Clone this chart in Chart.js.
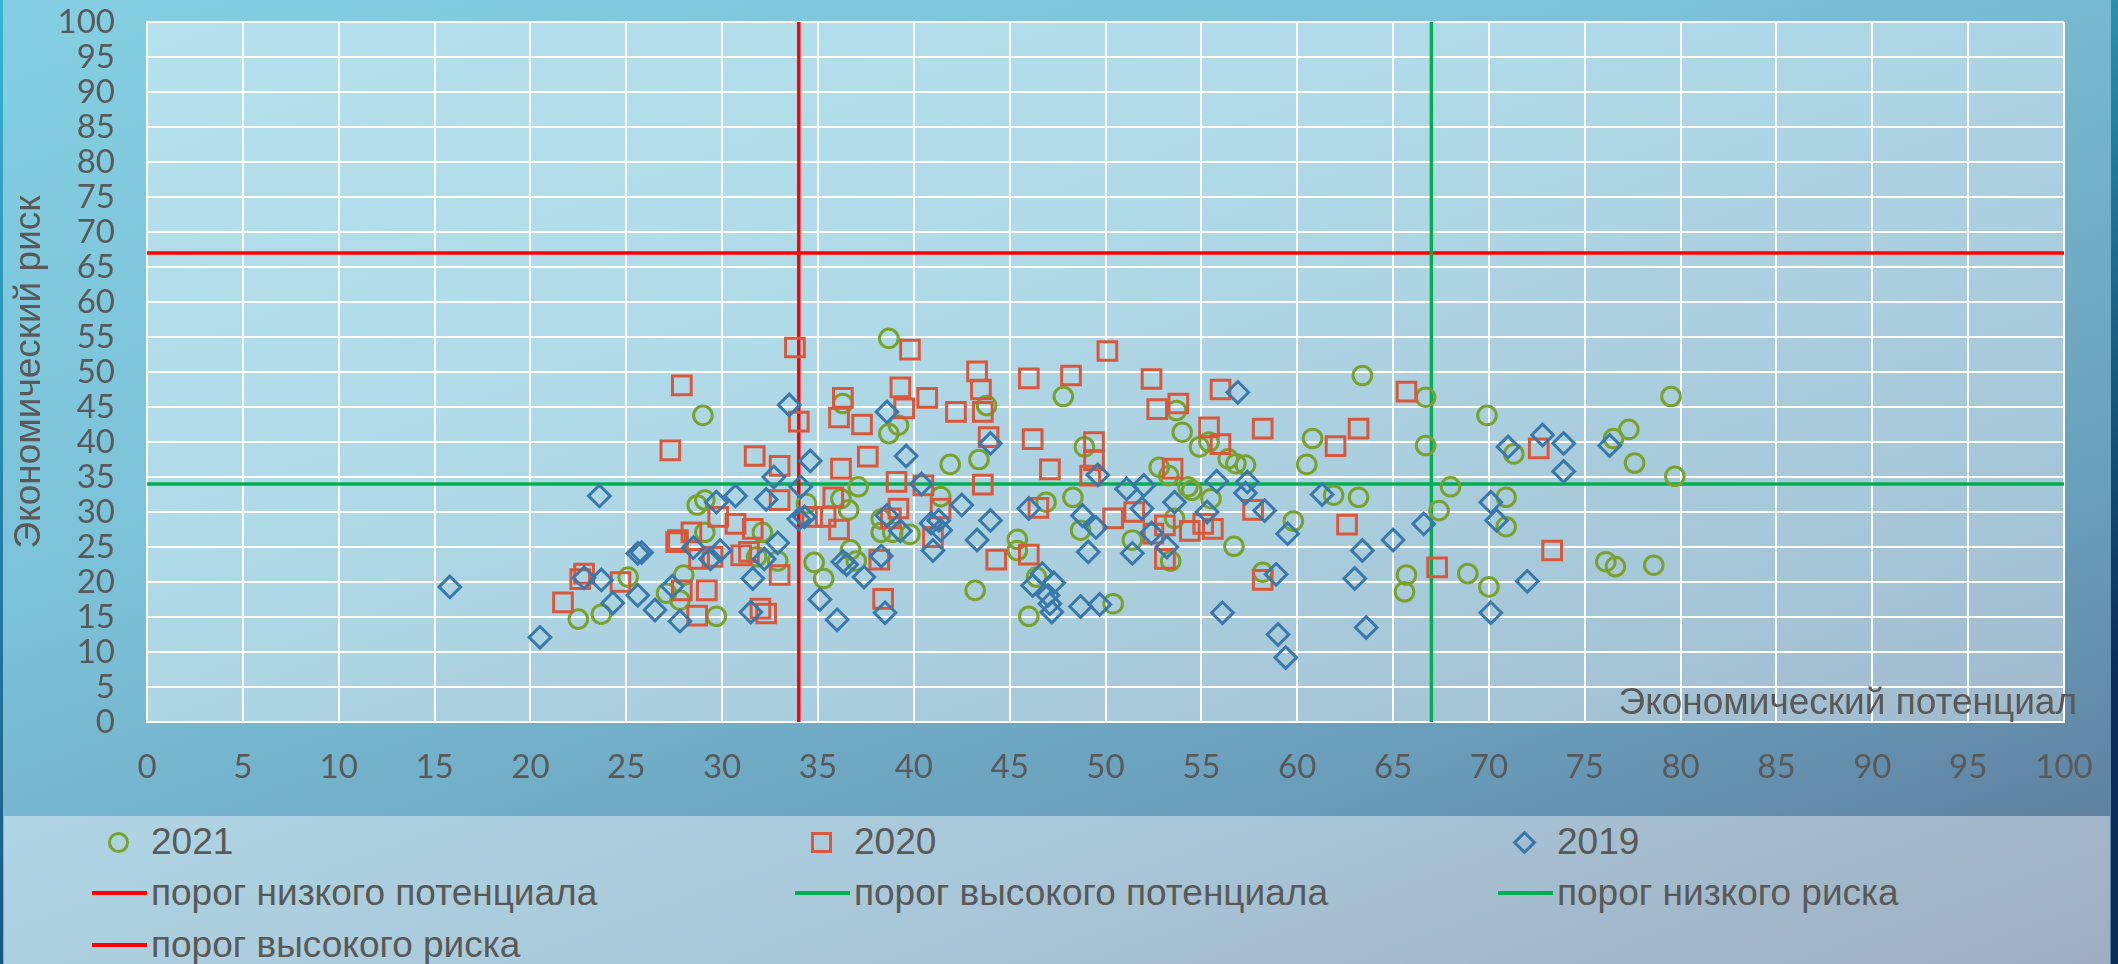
<!DOCTYPE html>
<html>
<head>
<meta charset="utf-8">
<script src="https://cdn.jsdelivr.net/npm/chart.js@4.4.1/dist/chart.umd.min.js"></script>
<style>
  html, body { margin: 0; padding: 0; }
  body {
    width: 2118px; height: 964px; overflow: hidden; position: relative;
    background: linear-gradient(160deg, #84cfe2 0%, #7cc2d8 35%, #6a9fbc 72%, #5a7594 100%);
    font-family: "Liberation Sans", Arial, sans-serif;
  }
  #edgeL { position: absolute; left: 0; top: 0; width: 3px; height: 964px; background: linear-gradient(180deg, #35b5d0, #1a5583); }
  #edgeR { position: absolute; right: 0; top: 0; width: 7px; height: 964px; background: linear-gradient(180deg, #2a90ad, #0b2d58 70%); }
  #wrap { position: absolute; left: 0; top: 0; width: 2118px; height: 815px; }
  #legendPanel { position: absolute; left: 4px; top: 816px; width: 2106px; height: 148px; background: rgba(255,255,255,0.42); }
  .lgText { position: absolute; height: 44px; line-height: 44px; font-size: 37px; color: #595959; white-space: nowrap; }
  .lgMark { position: absolute; box-sizing: border-box; }
</style>
</head>
<body>
<div id="edgeL"></div>
<div id="edgeR"></div>
<div id="wrap"><canvas id="risk"></canvas></div>
<div id="legendPanel"></div>
<div id="legend"></div>
<script>
const axisMin = 0;
const axisMax = 100;
const axisStep = 5;

// пороги
const lowPotential = 34;
const highPotential = 67;
const lowRisk = 34;
const highRisk = 67;

const xTitle = 'Экономический потенциал';
const yTitle = 'Экономический риск';

// [потенциал, риск]
const points2021 = [
  [22.5,14.7],[23.7,15.4],[25.1,20.7],[27.1,18.4],[27.8,17.4],[28.0,21.0],[29.7,15.1],[28.7,31.0],[29.1,31.7],[29.0,43.8],
  [29.1,27.1],[32.1,27.1],[31.8,23.6],[32.9,23.0],[34.4,31.2],[34.8,22.8],[35.3,20.5],[36.3,45.5],[36.2,31.9],[36.6,30.3],
  [36.7,24.6],[37.0,23.0],[37.1,33.6],[38.7,54.8],[38.7,41.2],[39.2,42.4],[38.3,29.0],[38.3,27.1],[38.9,27.1],[39.8,26.8],
  [41.4,32.2],[41.9,36.8],[43.4,37.5],[43.8,45.2],[43.2,18.8],[45.4,26.1],[45.4,24.5],[46.4,20.7],[46.0,15.1],[46.9,31.4],
  [47.8,46.5],[48.3,32.1],[48.9,39.3],[48.7,27.4],[50.4,16.9],[51.4,26.0],[52.8,36.4],[53.3,35.2],[53.7,44.5],[54.0,41.4],
  [54.9,39.3],[55.4,40.0],[54.3,33.6],[54.5,33.1],[55.5,31.9],[53.6,29.1],[53.4,23.0],[56.4,37.6],[56.8,36.9],[57.3,36.7],
  [56.7,25.1],[58.2,21.4],[59.8,28.7],[60.5,36.8],[60.8,40.5],[61.9,32.4],[63.2,32.1],[63.4,49.5],[65.7,21.0],[65.6,18.6],
  [66.7,46.4],[66.7,39.5],[67.4,30.2],[68.0,33.6],[68.9,21.2],[69.9,43.8],[70.0,19.3],[70.9,32.1],[70.9,27.9],[71.3,38.3],
  [76.1,22.9],[76.6,22.2],[76.5,40.5],[77.3,41.8],[77.6,37.0],[78.6,22.4],[79.5,46.5],[79.7,35.1]
];
const points2020 = [
  [21.7,17.1],[22.8,21.2],[22.6,20.4],[24.7,20.0],[27.3,38.8],[27.9,48.1],[27.7,26.0],[27.6,25.7],[28.4,27.1],[28.8,23.3],
  [29.5,23.6],[27.9,18.8],[29.2,18.8],[28.7,15.2],[29.8,29.3],[30.7,28.3],[31.6,27.6],[31.0,23.8],[31.4,24.3],[31.7,38.0],
  [33.0,36.6],[33.0,31.7],[33.0,21.0],[32.0,16.2],[32.3,15.5],[33.8,53.5],[34.0,42.9],[34.7,29.3],[35.4,29.3],[35.8,32.1],
  [36.1,27.5],[36.2,36.2],[36.3,46.3],[36.1,43.5],[37.3,42.5],[37.6,37.9],[38.2,23.2],[38.4,17.6],[38.8,29.1],[39.2,30.5],
  [39.1,34.3],[39.3,47.8],[39.5,44.8],[39.8,53.2],[40.5,33.8],[40.7,46.3],[41.4,30.5],[41.0,26.4],[42.2,44.3],[43.3,50.1],
  [43.5,47.5],[43.6,44.3],[43.9,40.7],[43.6,33.9],[44.3,23.2],[46.0,49.1],[46.2,40.4],[46.5,30.6],[46.0,23.9],[47.1,36.1],
  [48.2,49.5],[49.4,40.0],[49.4,37.4],[49.2,35.2],[50.1,53.0],[50.4,29.1],[51.5,30.0],[52.4,49.0],[52.7,44.7],[53.8,45.5],
  [53.5,36.2],[53.1,28.1],[52.5,26.9],[54.4,27.3],[55.1,28.3],[55.6,27.6],[53.1,23.3],[55.4,42.1],[56.0,47.5],[56.0,39.7],
  [57.7,30.3],[58.2,41.9],[58.2,20.3],[62.0,39.4],[62.6,28.2],[63.2,41.9],[65.7,47.2],[67.3,22.1],[72.6,39.1],[73.3,24.5]
];
const points2019 = [
  [15.8,19.3],[20.5,12.1],[23.6,32.3],[22.8,20.6],[23.7,20.3],[24.3,17.0],[25.6,24.1],[25.8,24.2],[25.6,18.1],[26.5,16.0],
  [27.4,19.4],[27.8,14.4],[28.5,24.9],[29.4,23.3],[29.9,24.5],[29.7,31.4],[30.7,32.3],[31.5,15.7],[31.6,20.5],[32.2,23.3],
  [32.3,31.8],[32.7,35.0],[32.9,25.6],[33.5,45.3],[34.0,29.0],[34.3,29.3],[34.1,33.6],[34.6,37.3],[35.1,17.5],[36.0,14.6],
  [36.3,22.9],[36.5,22.5],[37.4,20.7],[38.3,23.7],[38.5,15.6],[38.6,29.5],[38.6,44.3],[39.3,27.3],[39.6,38.0],[40.4,34.0],
  [40.9,28.4],[41.3,28.8],[41.4,27.4],[41.0,24.5],[42.5,31.0],[43.3,26.0],[44.0,28.8],[44.0,39.8],[46.0,30.5],[46.2,19.5],
  [46.7,21.2],[47.3,19.9],[47.0,18.1],[47.1,16.9],[47.2,15.7],[48.7,16.5],[48.8,29.5],[49.1,24.3],[49.5,27.8],[49.6,35.3],
  [49.7,16.8],[51.1,33.3],[51.4,24.1],[51.9,30.5],[52.0,33.8],[52.4,27.0],[53.2,25.0],[53.6,31.4],[55.3,30.0],[55.8,34.4],
  [56.1,15.6],[56.9,47.1],[57.4,34.3],[57.3,32.7],[58.3,30.2],[58.9,21.1],[59.0,12.5],[59.4,9.2],[59.5,26.9],[61.3,32.5],
  [63.0,20.5],[63.4,24.5],[63.6,13.5],[65.0,26.0],[66.6,28.3],[70.1,31.4],[70.4,28.8],[70.1,15.6],[71.0,39.3],[72.0,20.1],
  [72.8,41.0],[73.9,39.8],[73.9,35.8],[76.3,39.5]
];

const GREEN = '#78a22e';
const ORANGE = '#d9573b';
const BLUE = '#3a78aa';
const RED = '#ff0000';
const LINE_GREEN = '#00b050';
const TEXT = '#595959';

const toXY = pts => pts.map(p => ({ x: p[0], y: p[1] }));

function markerSet(label, pts, color, style, radius, order) {
  return {
    label: label,
    data: toXY(pts),
    pointStyle: style,
    pointRadius: radius,
    pointHoverRadius: radius,
    pointBorderWidth: 3,
    pointBorderColor: color,
    pointBackgroundColor: 'rgba(0,0,0,0)',
    borderColor: color,
    order: order
  };
}

function thresholdSet(label, a, b, color) {
  return {
    label: label,
    data: [a, b],
    showLine: true,
    borderColor: color,
    borderWidth: 3.5,
    pointRadius: 0,
    pointHoverRadius: 0,
    order: 5
  };
}

const datasets = [
  markerSet('2021', points2021, GREEN, 'circle', 9.3, 3),
  markerSet('2020', points2020, ORANGE, 'rect', 13.2, 2),
  markerSet('2019', points2019, BLUE, 'rectRot', 10.8, 1),
  thresholdSet('порог низкого потенциала', {x: lowPotential, y: axisMin}, {x: lowPotential, y: axisMax}, RED),
  thresholdSet('порог высокого потенциала', {x: highPotential, y: axisMin}, {x: highPotential, y: axisMax}, LINE_GREEN),
  thresholdSet('порог низкого риска', {x: axisMin, y: lowRisk}, {x: axisMax, y: lowRisk}, LINE_GREEN),
  thresholdSet('порог высокого риска', {x: axisMin, y: highRisk}, {x: axisMax, y: highRisk}, RED)
];

const plotBackground = {
  id: 'plotBackground',
  beforeDraw(chart) {
    const { ctx, chartArea: a } = chart;
    ctx.save();
    ctx.fillStyle = 'rgba(255,255,255,0.4)';
    ctx.fillRect(a.left, a.top, a.right - a.left, a.bottom - a.top);
    ctx.restore();
  }
};

// подпись оси X стоит внутри области построения, справа внизу
const cornerTitle = {
  id: 'cornerTitle',
  afterDraw(chart) {
    const { ctx, chartArea: a } = chart;
    ctx.save();
    ctx.font = '37px "Liberation Sans", Arial, sans-serif';
    ctx.fillStyle = TEXT;
    ctx.textAlign = 'right';
    ctx.textBaseline = 'alphabetic';
    ctx.fillText(xTitle, a.right + 13, a.bottom - 8);
    ctx.restore();
  }
};

const tickFont = { family: 'Lato, "DejaVu Sans", sans-serif', size: 33 };

let ctx = document.getElementById('risk').getContext('2d');
new Chart(ctx, {
  type: 'scatter',
  data: { datasets: datasets },
  options: {
    responsive: true,
    maintainAspectRatio: false,
    animation: false,
    layout: { padding: { left: 0, top: 22, right: 54, bottom: 0 } },
    scales: {
      x: {
        type: 'linear', min: axisMin, max: axisMax,
        ticks: { stepSize: axisStep, color: TEXT, font: tickFont, padding: 26, maxRotation: 0, autoSkip: false },
        grid: { color: '#ffffff', lineWidth: 2, drawTicks: false },
        border: { color: '#ffffff', width: 2 },
        afterFit(axis) { axis.height = 93; axis.paddingLeft = 0; axis.paddingRight = 0; }
      },
      y: {
        type: 'linear', min: axisMin, max: axisMax,
        ticks: { stepSize: axisStep, color: TEXT, font: tickFont, padding: 32, autoSkip: false },
        grid: { color: '#ffffff', lineWidth: 2, drawTicks: false },
        border: { color: '#ffffff', width: 2 },
        title: { display: true, text: yTitle, color: TEXT, font: { family: '"Liberation Sans", Arial, sans-serif', size: 37 }, padding: { top: 8, bottom: 0 } },
        afterFit(axis) { axis.width = 147; axis.paddingTop = 0; axis.paddingBottom = 0; }
      }
    },
    plugins: {
      legend: { display: false },
      tooltip: { enabled: false }
    }
  },
  plugins: [plotBackground, cornerTitle]
});

// легенда: три колонки, как в исходной диаграмме
const legendSlots = [[151, 842], [854, 842], [1557, 842], [151, 893], [854, 893], [1557, 893], [151, 945]];
let legend = document.getElementById('legend');
datasets.forEach((ds, i) => {
  let [tx, cy] = legendSlots[i];
  let mark = document.createElement('div');
  mark.className = 'lgMark';
  if (ds.showLine) {
    mark.style.left = (tx - 59) + 'px';
    mark.style.top = (cy - 2) + 'px';
    mark.style.width = '55px';
    mark.style.height = '4px';
    mark.style.background = ds.borderColor;
  } else {
    let size = ds.pointStyle === 'rectRot' ? 17 : 21;
    mark.style.left = (tx - 33 - size / 2) + 'px';
    mark.style.top = (cy - size / 2) + 'px';
    mark.style.width = size + 'px';
    mark.style.height = size + 'px';
    mark.style.border = '3px solid ' + ds.pointBorderColor;
    if (ds.pointStyle === 'circle') mark.style.borderRadius = '50%';
    if (ds.pointStyle === 'rectRot') mark.style.transform = 'rotate(45deg)';
  }
  legend.appendChild(mark);
  let text = document.createElement('div');
  text.className = 'lgText';
  text.style.left = tx + 'px';
  text.style.top = (cy - 22) + 'px';
  text.textContent = ds.label;
  legend.appendChild(text);
});
</script>
</body>
</html>
